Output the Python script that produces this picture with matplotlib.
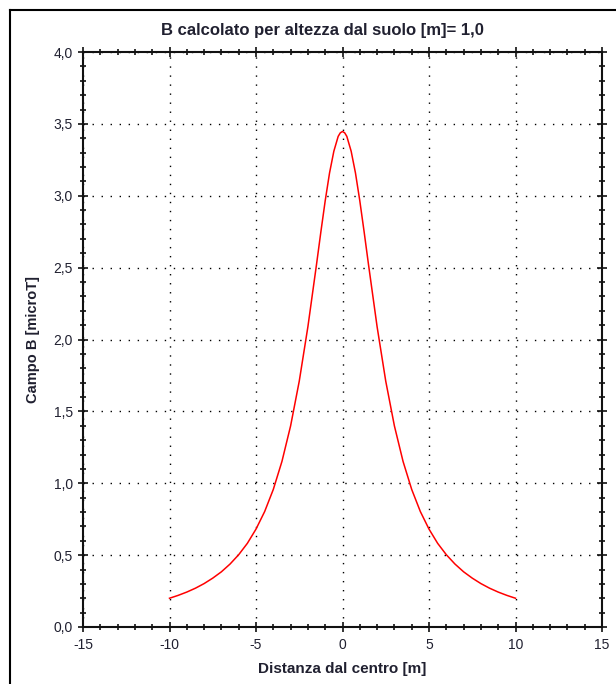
import numpy as np
import matplotlib
matplotlib.use('Agg')
import matplotlib.pyplot as plt
from matplotlib.lines import Line2D
from matplotlib.ticker import MultipleLocator, FuncFormatter

# distanza dal centro [m] e campo B [microT]
dist = [-10, -9.5, -9, -8.5, -8, -7.5, -7, -6.5, -6, -5.5, -5, -4.5, -4, -3.5,
        -3, -2.5, -2, -1.5, -1.25, -1, -0.75, -0.5, -0.25, -0.125, 0,
        0.125, 0.25, 0.5, 0.75, 1, 1.25, 1.5, 2, 2.5, 3, 3.5, 4, 4.5, 5, 5.5,
        6, 6.5, 7, 7.5, 8, 8.5, 9, 9.5, 10]
campoB = [0.200, 0.220, 0.243, 0.270, 0.302, 0.340, 0.384, 0.438, 0.503, 0.582,
          0.681, 0.803, 0.957, 1.152, 1.399, 1.710, 2.089, 2.524, 2.749, 2.965,
          3.158, 3.310, 3.413, 3.438, 3.447,
          3.438, 3.413, 3.310, 3.158, 2.965, 2.749, 2.524, 2.089, 1.710, 1.399,
          1.152, 0.957, 0.803, 0.681, 0.582, 0.503, 0.438, 0.384, 0.340, 0.302,
          0.270, 0.243, 0.220, 0.200]

titolo = 'B calcolato per altezza dal suolo [m]= 1,0'
xlab = 'Distanza dal centro [m]'
ylab = 'Campo B [microT]'

plt.rcParams['font.family'] = ['Liberation Sans', 'DejaVu Sans']
txtcol = '#202030'

W, H = 616, 684
fig = plt.figure(figsize=(W/100, H/100), dpi=100)
ax = fig.add_axes([83/W, 1-627/H, (602-83)/W, (627-52)/H])

ax.plot(dist, campoB, color='red', lw=1.1, solid_joinstyle='round')

ax.set_xlim(-15, 15)
ax.set_ylim(0, 4)
ax.xaxis.set_major_locator(MultipleLocator(5))
ax.xaxis.set_minor_locator(MultipleLocator(1))
ax.yaxis.set_major_locator(MultipleLocator(0.5))
ax.yaxis.set_minor_locator(MultipleLocator(0.1))
ax.yaxis.set_major_formatter(FuncFormatter(lambda v, p: ('%.1f' % v).replace('.', ',')))
ax.xaxis.set_major_formatter(FuncFormatter(lambda v, p: '%d' % v))

ax.grid(True, which='major', color='black', lw=1.0, linestyle=(0, (1, 5.5)))

for s in ax.spines.values():
    s.set_linewidth(1.5)
    s.set_color('#111111')

ax.tick_params(which='both', direction='inout', width=1.2, color='#111111',
               top=True, right=True, labelsize=10, labelcolor=txtcol)
ax.tick_params(which='major', length=6.5)
ax.tick_params(which='minor', length=4.5)
ax.tick_params(axis='x', which='major', pad=5)
ax.tick_params(axis='y', which='major', pad=4)

ax.set_xlabel(xlab, fontsize=11, fontweight='bold', color=txtcol, labelpad=7)
ax.set_ylabel(ylab, fontsize=10.5, fontweight='bold', color=txtcol, labelpad=10)
fig.text(322/W, 1-30/H, titolo, ha='center', va='center', fontsize=12,
         fontweight='bold', color=txtcol)

# cornice esterna
fig.add_artist(Line2D([10/W, 10/W], [0, 1-10/H], color='black', lw=1.5,
                      transform=fig.transFigure))
fig.add_artist(Line2D([10/W, 1], [1-10/H, 1-10/H], color='black', lw=1.5,
                      transform=fig.transFigure))

fig.savefig('out.png', dpi=100)
